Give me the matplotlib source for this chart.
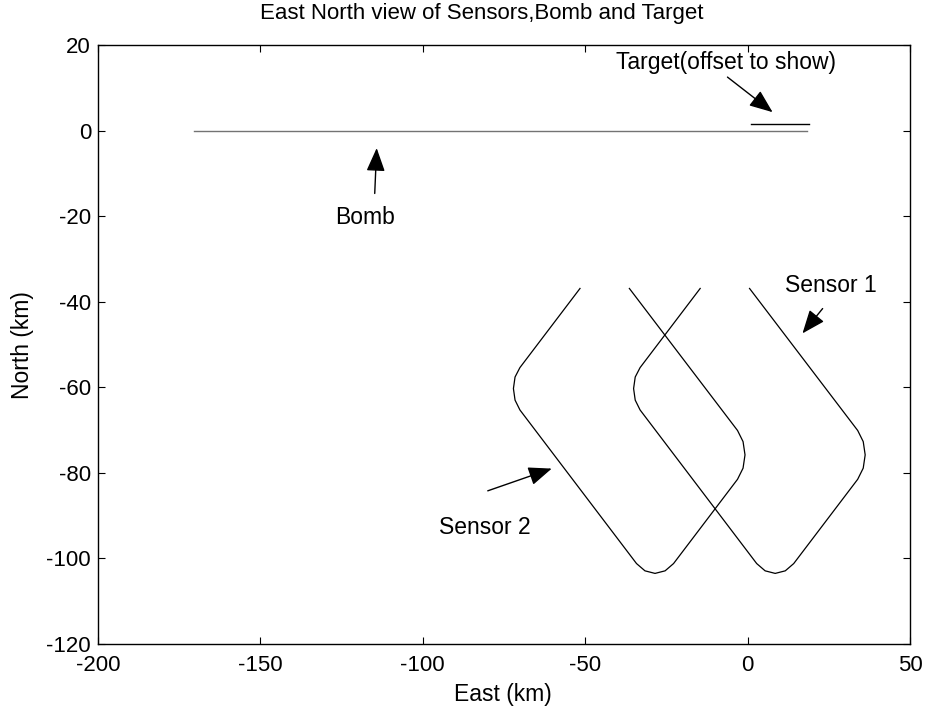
import matplotlib
matplotlib.use("Agg")
import matplotlib.pyplot as plt

# ---- data (km) ----
bomb_east = [-170.3, 18.2]
bomb_north = [0.0, 0.0]

target_east = [1.2, 19.0]
target_north = [1.6, 1.6]

sensor1_east = [0.6, 33.9, 35.6, 36.2, 35.6, 33.9, 14.2, 11.6, 8.5, 5.4, 2.8,
                -33.1, -34.6, -35.1, -34.6, -33.1, -14.6]
sensor1_north = [-36.9, -70.1, -72.7, -75.8, -78.9, -81.5, -101.2, -102.9, -103.5,
                 -102.9, -101.2, -65.3, -63.0, -60.3, -57.6, -55.4, -36.9]

sensor2_east = [-36.4, -3.1, -1.4, -0.8, -1.4, -3.1, -22.8, -25.4, -28.5, -31.6, -34.2,
                -70.1, -71.6, -72.1, -71.6, -70.1, -51.6]
sensor2_north = [-36.9, -70.1, -72.7, -75.8, -78.9, -81.5, -101.2, -102.9, -103.5,
                 -102.9, -101.2, -65.3, -63.0, -60.3, -57.6, -55.4, -36.9]

x_ticks = [-200, -150, -100, -50, 0, 50]
y_ticks = [-120, -100, -80, -60, -40, -20, 0, 20]

title = "East North view of Sensors,Bomb and Target"
xlabel = "East (km)"
ylabel = "North (km)"

# annotations: (text, text position, arrow start, arrow end)
labels = [
    ("Target(offset to show)", (-6.5, 16.0), (-6.2, 12.5), (7.7, 4.3)),
    ("Bomb", (-117.9, -20.3), (-114.8, -14.7), (-114.2, -4.1)),
    ("Sensor 1", (25.6, -36.2), (23.1, -41.6), (16.9, -47.4)),
    ("Sensor 2", (-81.0, -92.7), (-80.0, -84.2), (-60.3, -79.0)),
]

# ---- figure ----
plt.rcParams['font.family'] = ['Liberation Sans', 'DejaVu Sans']
plt.rcParams['axes.unicode_minus'] = False
W, H = 927, 708
fig = plt.figure(figsize=(W / 100, H / 100), dpi=100)
ax = fig.add_axes([98 / W, 1 - 644 / H, (910 - 98) / W, (644 - 45) / H])

ax.plot(bomb_east, bomb_north, color='0.45', lw=1.0)
ax.plot(target_east, target_north, color='k', lw=1.0)
ax.plot(sensor1_east, sensor1_north, color='k', lw=0.9)
ax.plot(sensor2_east, sensor2_north, color='k', lw=0.9)

for txt, tpos, a0, a1 in labels:
    ax.text(tpos[0], tpos[1], txt, ha='center', va='center', fontsize=16.5)
    ax.annotate('', xy=a1, xytext=a0,
                arrowprops=dict(arrowstyle='-|>,head_length=0.8,head_width=0.32',
                                color='k', lw=1.0, mutation_scale=18,
                                shrinkA=0, shrinkB=0))

ax.set_xlim(x_ticks[0], x_ticks[-1])
ax.set_ylim(y_ticks[0], y_ticks[-1])
ax.set_xticks(x_ticks)
ax.set_yticks(y_ticks)
ax.tick_params(direction='in', length=5, width=0.8, top=True, right=True,
               labelsize=16)
ax.tick_params(axis='x', pad=8)
ax.tick_params(axis='y', pad=5)
for s in ax.spines.values():
    s.set_linewidth(1.0)

fig.text(482 / W, 1 - 14 / H, title, ha='center', va='center', fontsize=16)
fig.text(503 / W, 1 - 695 / H, xlabel, ha='center', va='center', fontsize=16.5)
fig.text(23 / W, 1 - 345 / H, ylabel, ha='center', va='center', fontsize=16.5,
         rotation=90)

fig.savefig("out.png", dpi=100)
